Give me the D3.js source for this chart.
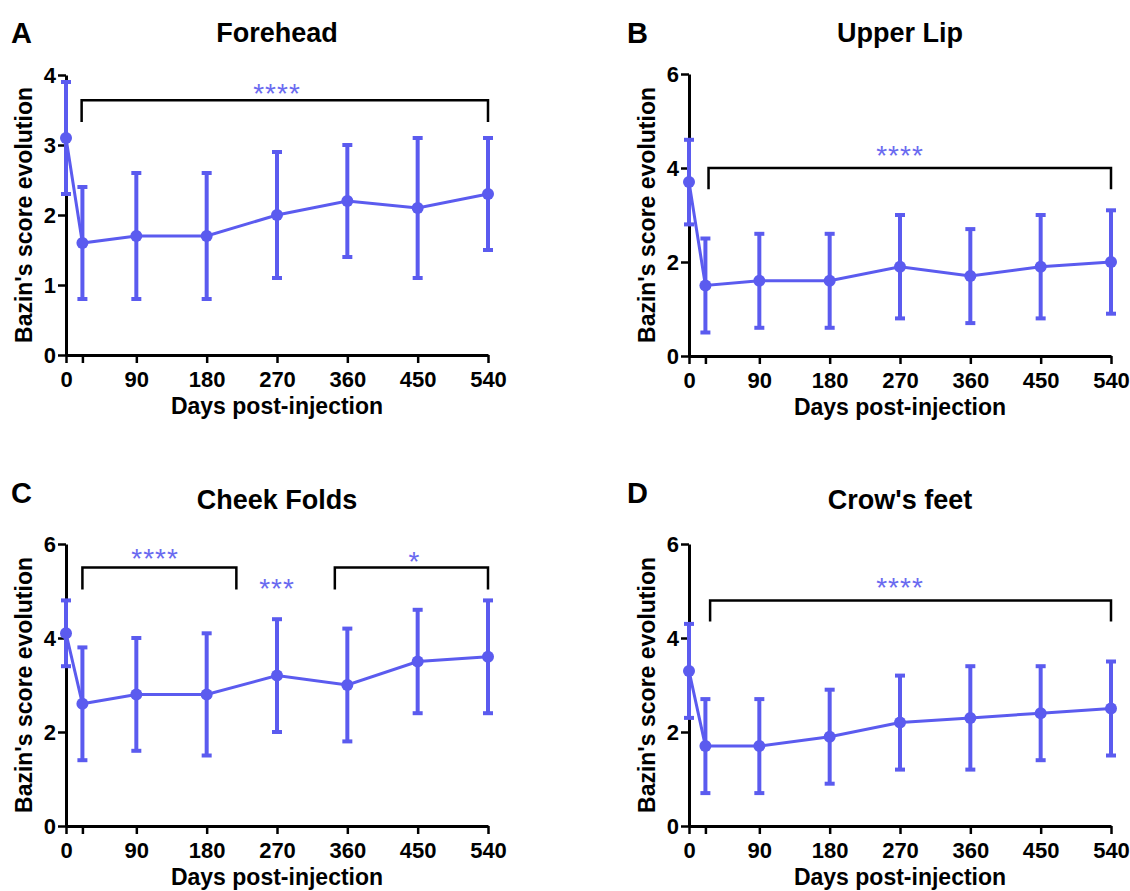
<!DOCTYPE html>
<html>
<head>
<meta charset="utf-8">
<script src="https://cdn.jsdelivr.net/npm/d3@7"></script>
<style>
    body { margin: 0; background: #fff; }
    text { font-family: "Liberation Sans", Arial, sans-serif; }
</style>
</head>
<body>
<div id="graph1"></div>
<script>
// days post-injection (x values) and tick labels
var days = [0, 21, 90, 180, 270, 360, 450, 540];
var xTicks = [0, 21, 90, 180, 270, 360, 450, 540];
var xTickLabels = ["0", "", "90", "180", "270", "360", "450", "540"];

// mean and SD of the Bazin's score for each zone
var foreheadMean = [3.1, 1.6, 1.7, 1.7, 2.0, 2.2, 2.1, 2.3];
var foreheadSD   = [0.8, 0.8, 0.9, 0.9, 0.9, 0.8, 1.0, 0.8];
var upperLipMean = [3.7, 1.5, 1.6, 1.6, 1.9, 1.7, 1.9, 2.0];
var upperLipSD   = [0.9, 1.0, 1.0, 1.0, 1.1, 1.0, 1.1, 1.1];
var cheekMean    = [4.1, 2.6, 2.8, 2.8, 3.2, 3.0, 3.5, 3.6];
var cheekSD      = [0.7, 1.2, 1.2, 1.3, 1.2, 1.2, 1.1, 1.2];
var crowMean     = [3.3, 1.7, 1.7, 1.9, 2.2, 2.3, 2.4, 2.5];
var crowSD       = [1.0, 1.0, 1.0, 1.0, 1.0, 1.1, 1.0, 1.0];

// y ticks
var yTicks4 = [0, 1, 2, 3, 4];
var yTicks6 = [0, 2, 4, 6];

// significance brackets: [from day, to day, bar level, leg bottom]
var foreheadBrackets = [[20, 540, 3.64, 3.33]];
var upperLipBrackets = [[25, 540, 4.0, 3.55]];
var cheekBrackets    = [[21, 218, 5.5, 5.03], [344, 540, 5.5, 5.03]];
var crowBrackets     = [[27, 540, 4.8, 4.35]];

// star labels: [day, level, text]
var foreheadStars = [[270, 3.82, "****"]];
var upperLipStars = [[270, 4.38, "****"]];
var cheekStars    = [[114, 5.8, "****"], [270, 5.18, "***"], [446, 5.74, "*"]];
var crowStars     = [[270, 5.19, "****"]];

var blue = "#5b5bef";

var svg = d3.select("#graph1")
    .append("svg")
    .attr("width", 1130)
    .attr("height", 891);

var panels = [
    {letter: "A", title: "Forehead", mean: foreheadMean, sd: foreheadSD, ymax: 4, yticks: yTicks4,
        brackets: foreheadBrackets, stars: foreheadStars, x0: 66, y0: 355, yTop: 75, lx: 11, ly: 43, ty: 42},
    {letter: "B", title: "Upper Lip", mean: upperLipMean, sd: upperLipSD, ymax: 6, yticks: yTicks6,
        brackets: upperLipBrackets, stars: upperLipStars, x0: 689, y0: 356, yTop: 74, lx: 627, ly: 43, ty: 42},
    {letter: "C", title: "Cheek Folds", mean: cheekMean, sd: cheekSD, ymax: 6, yticks: yTicks6,
        brackets: cheekBrackets, stars: cheekStars, x0: 66, y0: 826, yTop: 544, lx: 11, ly: 503, ty: 509},
    {letter: "D", title: "Crow's feet", mean: crowMean, sd: crowSD, ymax: 6, yticks: yTicks6,
        brackets: crowBrackets, stars: crowStars, x0: 689, y0: 826, yTop: 544, lx: 627, ly: 503, ty: 509}
];

panels.forEach(function (p) {
    var g = svg.append("g");

    var x = d3.scaleLinear()
        .domain([0, 540])
        .range([p.x0, p.x0 + 422]);
    var y = d3.scaleLinear()
        .domain([0, p.ymax])
        .range([p.y0, p.yTop]);

    // panel letter and title
    g.append("text")
        .attr("x", p.lx)
        .attr("y", p.ly)
        .text(p.letter)
        .style("font-size", "29px")
        .style("font-weight", "bold");
    g.append("text")
        .attr("x", (x(0) + x(540)) / 2)
        .attr("y", p.ty)
        .attr("text-anchor", "middle")
        .text(p.title)
        .style("font-size", "27px")
        .style("font-weight", "bold");

    // X axis
    var xAxis = g.append("g")
        .attr("transform", "translate(0," + p.y0 + ")")
        .call(d3.axisBottom(x)
            .tickValues(xTicks)
            .tickFormat(function (d, i) { return xTickLabels[i]; })
            .tickSize(8)
            .tickSizeOuter(0)
            .tickPadding(8));
    // Y axis
    var yAxis = g.append("g")
        .attr("transform", "translate(" + p.x0 + ",0)")
        .call(d3.axisLeft(y)
            .tickValues(p.yticks)
            .tickFormat(d3.format("d"))
            .tickSize(8)
            .tickSizeOuter(0)
            .tickPadding(2));
    [xAxis, yAxis].forEach(function (a) {
        a.select(".domain").attr("stroke", "#000").attr("stroke-width", 3);
        a.selectAll(".tick line").attr("stroke", "#000").attr("stroke-width", 2.5);
        a.selectAll(".tick text")
            .attr("fill", "#000")
            .style("font-size", "22px")
            .style("font-weight", "bold")
            .style("font-family", "'Liberation Sans', Arial, sans-serif");
    });

    // axis labels
    g.append("text")
        .attr("transform", "translate(" + (p.x0 - 34) + "," + ((p.y0 + p.yTop) / 2) + ") rotate(-90)")
        .attr("text-anchor", "middle")
        .text("Bazin's score evolution")
        .style("font-size", "23px")
        .style("font-weight", "bold");
    g.append("text")
        .attr("x", (x(0) + x(540)) / 2)
        .attr("y", p.y0 + 59)
        .attr("text-anchor", "middle")
        .text("Days post-injection")
        .style("font-size", "23px")
        .style("font-weight", "bold");

    // brackets
    g.selectAll("myBrackets")
        .data(p.brackets)
        .enter()
        .append("path")
        .attr("d", function (d) {
            return "M" + x(d[0]) + "," + y(d[3]) + "V" + y(d[2]) + "H" + x(d[1]) + "V" + y(d[3]);
        })
        .attr("fill", "none")
        .attr("stroke", "#000")
        .attr("stroke-width", 2.5);

    // stars
    g.selectAll("myStars")
        .data(p.stars)
        .enter()
        .append("text")
        .attr("x", function (d) { return x(d[0]); })
        .attr("y", function (d) { return y(d[1]) + 15; })
        .attr("text-anchor", "middle")
        .text(function (d) { return d[2]; })
        .style("font-size", "28px")
        .style("letter-spacing", "1px")
        .style("fill", "#6a6af0");

    var pts = days.map(function (d, i) {
        return {day: d, value: p.mean[i], sd: p.sd[i]};
    });

    // error bars
    var bars = g.selectAll("myBars")
        .data(pts)
        .enter()
        .append("g")
        .attr("stroke", blue)
        .attr("stroke-width", 4);
    bars.append("line")
        .attr("x1", function (d) { return x(d.day); })
        .attr("x2", function (d) { return x(d.day); })
        .attr("y1", function (d) { return y(d.value - d.sd); })
        .attr("y2", function (d) { return y(d.value + d.sd); });
    bars.append("line")
        .attr("x1", function (d) { return x(d.day) - 5; })
        .attr("x2", function (d) { return x(d.day) + 5; })
        .attr("y1", function (d) { return y(d.value + d.sd); })
        .attr("y2", function (d) { return y(d.value + d.sd); });
    bars.append("line")
        .attr("x1", function (d) { return x(d.day) - 5; })
        .attr("x2", function (d) { return x(d.day) + 5; })
        .attr("y1", function (d) { return y(d.value - d.sd); })
        .attr("y2", function (d) { return y(d.value - d.sd); });

    // mean line
    var line = d3.line()
        .x(function (d) { return x(d.day); })
        .y(function (d) { return y(d.value); });
    g.append("path")
        .attr("d", line(pts))
        .attr("fill", "none")
        .attr("stroke", blue)
        .attr("stroke-width", 3);

    // points
    g.selectAll("myDots")
        .data(pts)
        .enter()
        .append("circle")
        .attr("cx", function (d) { return x(d.day); })
        .attr("cy", function (d) { return y(d.value); })
        .attr("r", 6)
        .attr("fill", blue);
});
</script>
</body>
</html>
